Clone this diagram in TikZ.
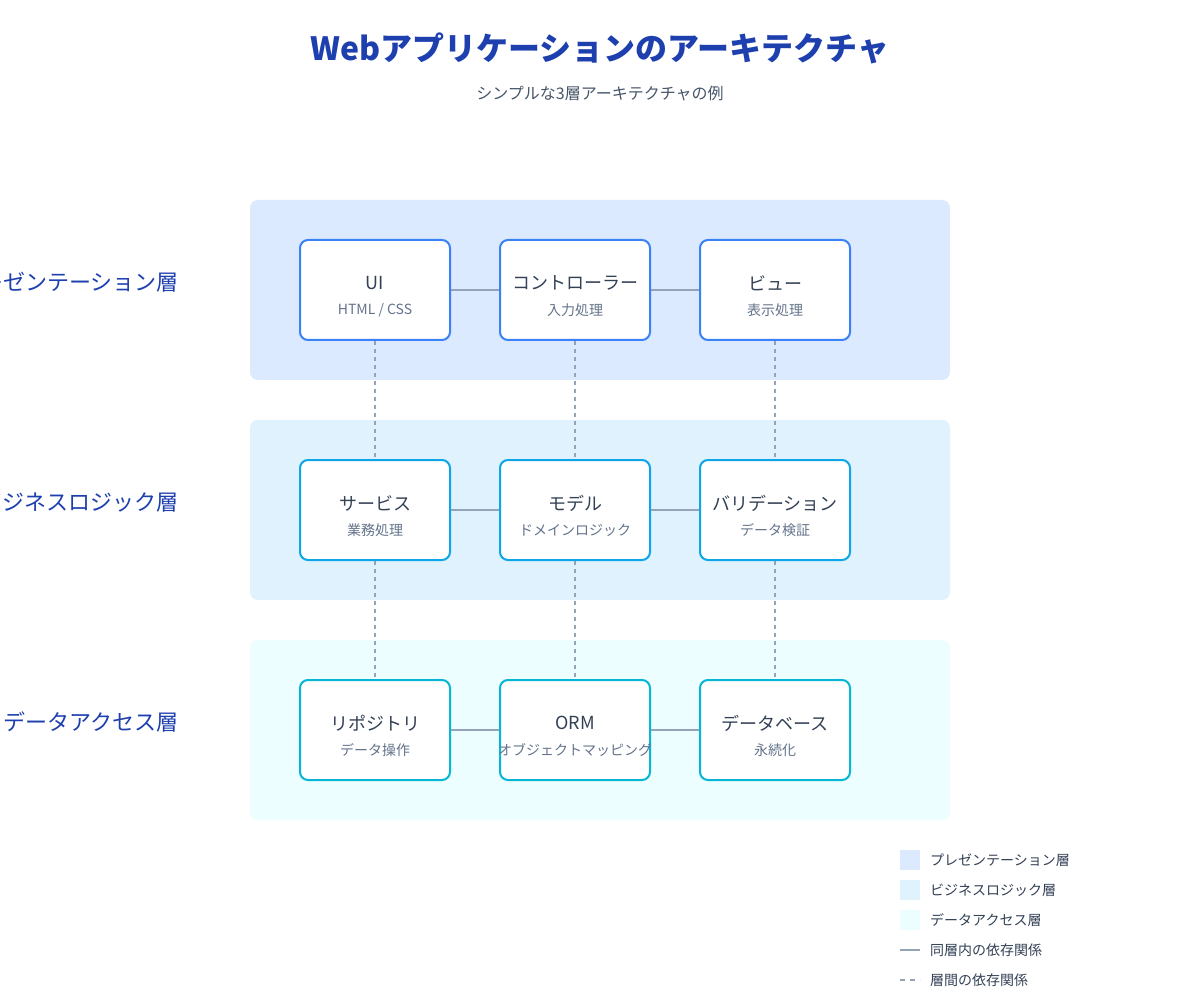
\documentclass[tikz,border=0pt]{standalone}
\usepackage{fontspec}
\setmainfont{Noto Sans CJK JP}
\definecolor{titleblue}{HTML}{1E40AF}
\definecolor{subgray}{HTML}{475569}
\definecolor{txtdark}{HTML}{334155}
\definecolor{txtgray}{HTML}{64748B}
\definecolor{lnk}{HTML}{94A3B8}
\definecolor{presfill}{HTML}{DBEAFE}
\definecolor{bizfill}{HTML}{E0F2FE}
\definecolor{datafill}{HTML}{ECFEFF}
\definecolor{presline}{HTML}{3B82F6}
\definecolor{bizline}{HTML}{0EA5E9}
\definecolor{dataline}{HTML}{06B6D4}
\tikzset{
  comp/.style={draw, line width=2pt, fill=white, rounded corners=8pt,
    minimum width=150pt, minimum height=100pt, inner sep=0pt},
  ctitle/.style={text=txtdark, font=\fontsize{18}{22}\selectfont, inner sep=0pt},
  csub/.style={text=txtgray, font=\fontsize{14}{17}\selectfont, inner sep=0pt},
  layerlabel/.style={anchor=east, text=titleblue, font=\fontsize{22}{26}\selectfont, inner sep=0pt},
  hline/.style={draw=lnk, line width=2pt},
  vline/.style={draw=lnk, line width=1.5pt, dash pattern=on 4pt off 4pt},
  legdash/.style={draw=lnk, line width=1.5pt, dash pattern=on 5pt off 5pt},
  legtext/.style={anchor=west, text=txtdark, font=\fontsize{14}{17}\selectfont, inner sep=0pt},
}
\newcommand{\compnode}[6]{%
  \node[comp, draw=#4] (#1) at (#2,#3) {};
  \node[ctitle] (#1t) at ([yshift=7pt]#1.center) {#5};
  \node[csub] (#1s) at ([yshift=-20pt]#1.center) {#6};
}
\begin{document}
\begin{tikzpicture}[x=1pt,y=-1pt]
\useasboundingbox[fill=white] (0,0) rectangle (1200,1000);

% title
\node[text=titleblue, font=\fontsize{32}{38}\selectfont\bfseries] (title) at (600,48) {Webアプリケーションのアーキテクチャ};
\node[text=subgray, font=\fontsize{16}{20}\selectfont] (subtitle) at (600,94) {シンプルな3層アーキテクチャの例};

% layers
\fill[presfill, rounded corners=8pt] (250,200) rectangle (950,380);
\fill[bizfill, rounded corners=8pt] (250,420) rectangle (950,600);
\fill[datafill, rounded corners=8pt] (250,640) rectangle (950,820);

\node[layerlabel] (l1) at (179,282) {プレゼンテーション層};
\node[layerlabel] (l2) at (179,502) {ビジネスロジック層};
\node[layerlabel] (l3) at (179,722) {データアクセス層};

% components
\compnode{ui}{375}{290}{presline}{UI}{HTML / CSS}
\compnode{ctrl}{575}{290}{presline}{コントローラー}{入力処理}
\compnode{view}{775}{290}{presline}{ビュー}{表示処理}
\compnode{svc}{375}{510}{bizline}{サービス}{業務処理}
\compnode{model}{575}{510}{bizline}{モデル}{ドメインロジック}
\compnode{valid}{775}{510}{bizline}{バリデーション}{データ検証}
\compnode{repo}{375}{730}{dataline}{リポジトリ}{データ操作}
\compnode{orm}{575}{730}{dataline}{ORM}{オブジェクトマッピング}
\compnode{db}{775}{730}{dataline}{データベース}{永続化}

% horizontal links
\draw[hline] (ui.east) -- (ctrl.west);
\draw[hline] (ctrl.east) -- (view.west);
\draw[hline] (svc.east) -- (model.west);
\draw[hline] (model.east) -- (valid.west);
\draw[hline] (repo.east) -- (orm.west);
\draw[hline] (orm.east) -- (db.west);

% vertical links
\draw[vline] (ui.south) -- (svc.north);
\draw[vline] (ctrl.south) -- (model.north);
\draw[vline] (view.south) -- (valid.north);
\draw[vline] (svc.south) -- (repo.north);
\draw[vline] (model.south) -- (orm.north);
\draw[vline] (valid.south) -- (db.north);

% legend
\fill[presfill] (900,850) rectangle (920,870);
\fill[bizfill] (900,880) rectangle (920,900);
\fill[datafill] (900,910) rectangle (920,930);
\node[legtext] (lg1) at (930,860) {プレゼンテーション層};
\node[legtext] (lg2) at (930,890) {ビジネスロジック層};
\node[legtext] (lg3) at (930,920) {データアクセス層};
\coordinate (s1) at (900,950); \coordinate (s2) at (920,950);
\coordinate (d1) at (900,980); \coordinate (d2) at (920,980);
\draw[hline] (s1) -- (s2);
\draw[legdash] (d1) -- (d2);
\node[legtext] (lg4) at (930,950) {同層内の依存関係};
\node[legtext] (lg5) at (930,980) {層間の依存関係};
\end{tikzpicture}
\end{document}
